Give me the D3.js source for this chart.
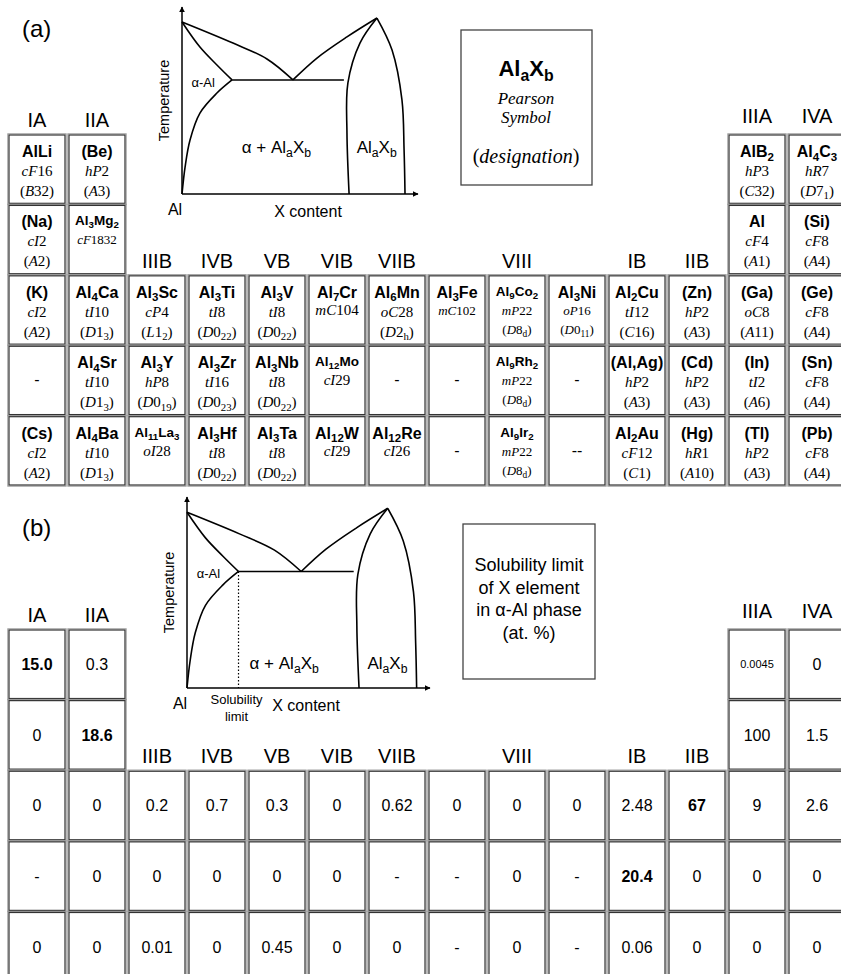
<!DOCTYPE html>
<html>
<head>
<meta charset="utf-8">
<script src="https://cdn.jsdelivr.net/npm/d3@7"></script>
<style>
  body { margin: 0; background: #fff; }
  svg { display: block; }
</style>
</head>
<body>
<script>
// Group names of the 14 table columns
var groups = ["IA", "IIA", "IIIB", "IVB", "VB", "VIB", "VIIB", "VIII", "VIII", "VIII", "IB", "IIB", "IIIA", "IVA"];

// (a) Al-richest phase: formula ("_" starts a subscript), Pearson symbol, designation
var formulaRows = [
    ["AlLi", "(Be)", null, null, null, null, null, null, null, null, null, null, "AlB_2", "Al_4C_3"],
    ["(Na)", "Al_3Mg_2", null, null, null, null, null, null, null, null, null, null, "Al", "(Si)"],
    ["(K)", "Al_4Ca", "Al_3Sc", "Al_3Ti", "Al_3V", "Al_7Cr", "Al_6Mn", "Al_3Fe", "Al_9Co_2", "Al_3Ni", "Al_2Cu", "(Zn)", "(Ga)", "(Ge)"],
    ["-", "Al_4Sr", "Al_3Y", "Al_3Zr", "Al_3Nb", "Al_12Mo", "-", "-", "Al_9Rh_2", "-", "(Al,Ag)", "(Cd)", "(In)", "(Sn)"],
    ["(Cs)", "Al_4Ba", "Al_11La_3", "Al_3Hf", "Al_3Ta", "Al_12W", "Al_12Re", "-", "Al_9Ir_2", "--", "Al_2Au", "(Hg)", "(Tl)", "(Pb)"]
];

var pearsonRows = [
    ["cF16", "hP2", null, null, null, null, null, null, null, null, null, null, "hP3", "hR7"],
    ["cI2", "cF1832", null, null, null, null, null, null, null, null, null, null, "cF4", "cF8"],
    ["cI2", "tI10", "cP4", "tI8", "tI8", "mC104", "oC28", "mC102", "mP22", "oP16", "tI12", "hP2", "oC8", "cF8"],
    [null, "tI10", "hP8", "tI16", "tI8", "cI29", null, null, "mP22", null, "hP2", "hP2", "tI2", "cF8"],
    ["cI2", "tI10", "oI28", "tI8", "tI8", "cI29", "cI26", null, "mP22", null, "cF12", "hR1", "hP2", "cF8"]
];

var designationRows = [
    ["B32", "A3", null, null, null, null, null, null, null, null, null, null, "C32", "D7_1"],
    ["A2", null, null, null, null, null, null, null, null, null, null, null, "A1", "A4"],
    ["A2", "D1_3", "L1_2", "D0_22", "D0_22", null, "D2_h", null, "D8_d", "D0_11", "C16", "A3", "A11", "A4"],
    [null, "D1_3", "D0_19", "D0_23", "D0_22", null, null, null, "D8_d", null, "A3", "A3", "A6", "A4"],
    ["A2", "D1_3", null, "D0_22", "D0_22", null, null, null, "D8_d", null, "C1", "A10", "A3", "A4"]
];

// (b) solubility limit of X in alpha-Al (at. %)
var solubilityRows = [
    ["15.0", "0.3", null, null, null, null, null, null, null, null, null, null, "0.0045", "0"],
    ["0", "18.6", null, null, null, null, null, null, null, null, null, null, "100", "1.5"],
    ["0", "0", "0.2", "0.7", "0.3", "0", "0.62", "0", "0", "0", "2.48", "67", "9", "2.6"],
    ["-", "0", "0", "0", "0", "0", "-", "-", "0", "-", "20.4", "0", "0", "0"],
    ["0", "0", "0.01", "0", "0.45", "0", "0", "-", "0", "-", "0.06", "0", "0", "0"]
];
var solubilityBold = ["15.0", "18.6", "67", "20.4"];

// Schematic Al-X phase diagram, points as [X content, temperature] in axis fractions
var liquidusLeft = [[0, 0.92], [0.216, 0.807], [0.36, 0.722], [0.47, 0.61]];
var solidus = [[0, 0.92], [0.076, 0.786], [0.148, 0.69], [0.212, 0.61]];
var solvus = [[0.212, 0.61], [0.148, 0.54], [0.076, 0.433], [0.034, 0.289], [0.013, 0.144], [0, 0]];
var liquidusRight = [[0.47, 0.61], [0.572, 0.727], [0.699, 0.84], [0.826, 0.941]];
var compoundLeft = [[0.826, 0.941], [0.754, 0.807], [0.703, 0.594], [0.699, 0.326], [0.708, 0]];
var compoundRight = [[0.826, 0.941], [0.89, 0.77], [0.932, 0.503], [0.941, 0.235], [0.945, 0]];
var eutectic = [[0.212, 0.61], [0.686, 0.61]];
var solubilityLimit = [[0.212, 0.61], [0.212, 0]];

var sans = "'Liberation Sans', Arial, sans-serif";
var serif = "'Liberation Serif', 'Times New Roman', serif";

window.onload = function() {

    var svg = d3.select("body").append("svg")
        .attr("width", 841)
        .attr("height", 974);

    var defs = svg.append("defs");
    defs.append("marker")
        .attr("id", "arrow")
        .attr("viewBox", "0 0 10 10")
        .attr("refX", 9)
        .attr("refY", 5)
        .attr("markerUnits", "userSpaceOnUse")
        .attr("markerWidth", 6)
        .attr("markerHeight", 6)
        .attr("orient", "auto")
        .append("path")
        .attr("d", "M0,0L10,5L0,10Z")
        .attr("fill", "#000");

    // Columns are shared by both tables
    var xCol = d3.scaleBand()
        .domain(d3.range(groups.length))
        .range([9, 845])
        .paddingInner(0.067);

    var yRowA = d3.scaleBand().domain(d3.range(5)).range([135, 485]).paddingInner(0.03);
    var yRowB = d3.scaleBand().domain(d3.range(5)).range([630, 981]).paddingInner(0.03);

    // Panel letters
    svg.append("text").attr("x", 22).attr("y", 37)
        .attr("font-family", sans).attr("font-size", 24).text("(a)");
    svg.append("text").attr("x", 22).attr("y", 536)
        .attr("font-family", sans).attr("font-size", 24).text("(b)");

    groupLabels(svg, xCol, yRowA, formulaRows);
    groupLabels(svg, xCol, yRowB, solubilityRows);

    phaseTable(svg, xCol, yRowA);
    solubilityTable(svg, xCol, yRowB);

    phaseDiagram(svg, {x0: 182, x1: 418, y0: 194, y1: 7, mixY: 0.25, contentX: 0.534, limit: false});
    phaseDiagram(svg, {x0: 187, x1: 430, y0: 688, y1: 497, mixY: 0.13, contentX: 0.49, limit: true});

    // Legend box (a)
    svg.append("rect").attr("x", 461).attr("y", 30).attr("width", 131).attr("height", 155)
        .attr("fill", "none").attr("stroke", "#444").attr("stroke-width", 1.3);
    richText(svg, "Al_aX_b", 526, 76, 22, {family: sans, weight: "bold"});
    richText(svg, "Pearson", 526, 104, 17, {family: serif, italicLetters: true});
    richText(svg, "Symbol", 526, 123, 17, {family: serif, italicLetters: true});
    richText(svg, "(designation)", 526, 163, 20, {family: serif, italicLetters: true});

    // Legend box (b)
    svg.append("rect").attr("x", 463).attr("y", 524).attr("width", 132).attr("height", 155)
        .attr("fill", "none").attr("stroke", "#444").attr("stroke-width", 1.3);
    ["Solubility limit", "of X element", "in \u03b1-Al phase", "(at. %)"].forEach(function(line, i) {
        svg.append("text")
            .attr("x", 529)
            .attr("y", 571 + i * 22.5)
            .attr("text-anchor", "middle")
            .attr("font-family", sans)
            .attr("font-size", 18)
            .text(line);
    });
};

function richText(parent, str, x, y, size, style) {
    /*
     * Writes a string where "_xx" is a subscript; letters may be italic
     */
    var text = parent.append("text")
        .attr("x", x)
        .attr("y", y)
        .attr("text-anchor", style.anchor || "middle")
        .attr("font-family", style.family)
        .attr("font-weight", style.weight || "normal")
        .attr("font-size", size);

    var tokens = str.match(/_[0-9a-z]+|[A-Za-z\u03b1]+|[^A-Za-z_\u03b1]+/g);
    var shift = size * 0.22;
    var shifted = false;

    tokens.forEach(function(tok) {
        var span = text.append("tspan");
        if (tok[0] === "_") {
            span.text(tok.slice(1)).attr("font-size", size * 0.72);
            if (!shifted) {
                span.attr("dy", shift);
                shifted = true;
            }
        } else {
            span.text(tok);
            if (shifted) {
                span.attr("dy", -shift);
                shifted = false;
            }
            if (style.italicLetters && /[A-Za-z]/.test(tok)) {
                span.attr("font-style", "italic");
            }
        }
    });
    return text;
}

function groupLabels(svg, xCol, yRow, rows) {
    // Label sits above the first cell of each column
    groups.forEach(function(name, c) {
        if (c >= 7 && c <= 9 && c !== 8) return;
        var first = d3.range(rows.length).find(function(r) { return rows[r][c] !== null; });
        svg.append("text")
            .attr("x", xCol(c) + xCol.bandwidth() / 2)
            .attr("y", yRow(first) - (c >= 12 ? 12 : 8))
            .attr("text-anchor", "middle")
            .attr("font-family", sans)
            .attr("font-size", 20)
            .text(name);
    });
}

function drawCellBox(cell, w, h) {
    // Light outer line and dark inner line, like a bordered table cell
    cell.append("rect")
        .attr("x", -1.2)
        .attr("y", -1.2)
        .attr("width", w + 2.4)
        .attr("height", h + 2.4)
        .attr("fill", "none")
        .attr("stroke", "#9a9a9a")
        .attr("stroke-width", 1);
    cell.append("rect")
        .attr("width", w)
        .attr("height", h)
        .attr("fill", "#fff")
        .attr("stroke", "#333")
        .attr("stroke-width", 1.2);
}

function phaseTable(svg, xCol, yRow) {
    var smallFormula = ["Al_3Mg_2", "Al_9Co_2", "Al_9Rh_2", "Al_9Ir_2", "Al_12Mo", "Al_11La_3"];
    var smallLines = ["Al_3Mg_2", "Al_3Fe", "Al_9Co_2", "Al_9Rh_2", "Al_9Ir_2", "Al_3Ni"];

    var cells = [];
    formulaRows.forEach(function(row, r) {
        row.forEach(function(f, c) {
            if (f === null) return;
            cells.push({r: r, c: c, formula: f, pearson: pearsonRows[r][c], designation: designationRows[r][c]});
        });
    });

    var w = xCol.bandwidth();
    var h = yRow.bandwidth();

    var cell = svg.selectAll(".cellA")
        .data(cells)
        .enter()
        .append("g")
        .attr("class", "cellA")
        .attr("transform", function(d) { return `translate(${xCol(d.c)}, ${yRow(d.r)})`; });

    drawCellBox(cell, w, h);

    cell.each(function(d) {
        var g = d3.select(this);
        if (d.formula === "-" || d.formula === "--") {
            richText(g, d.formula, w / 2, h / 2 + 5, 16, {family: sans});
            return;
        }
        var small = smallLines.indexOf(d.formula) >= 0;
        var smallF = smallFormula.indexOf(d.formula) >= 0;
        richText(g, d.formula, w / 2, smallF ? 20 : 22, smallF ? 13.5 : 16, {family: sans, weight: "bold"});
        if (d.pearson) {
            var py = (small || !d.designation) ? 39 : 41;
            richText(g, d.pearson, w / 2, py, small ? 13 : 15, {family: serif, italicLetters: true});
        }
        if (d.designation) {
            richText(g, "(" + d.designation + ")", w / 2, small ? 58 : 61, small ? 13 : 15,
                {family: serif, italicLetters: true});
        }
    });
}

function solubilityTable(svg, xCol, yRow) {
    var cells = [];
    solubilityRows.forEach(function(row, r) {
        row.forEach(function(v, c) {
            if (v === null) return;
            cells.push({r: r, c: c, value: v});
        });
    });

    var w = xCol.bandwidth();
    var h = yRow.bandwidth();

    var cell = svg.selectAll(".cellB")
        .data(cells)
        .enter()
        .append("g")
        .attr("class", "cellB")
        .attr("transform", function(d) { return `translate(${xCol(d.c)}, ${yRow(d.r)})`; });

    drawCellBox(cell, w, h);

    cell.append("text")
        .attr("x", w / 2)
        .attr("y", function(d) { return d.value.length > 5 ? h / 2 + 4 : h / 2 + 6; })
        .attr("text-anchor", "middle")
        .attr("font-family", sans)
        .attr("font-size", function(d) { return d.value.length > 5 ? 11 : 16; })
        .attr("font-weight", function(d) { return solubilityBold.indexOf(d.value) >= 0 ? "bold" : "normal"; })
        .text(function(d) { return d.value; });
}

function phaseDiagram(svg, cfg) {
    var x = d3.scaleLinear().domain([0, 1]).range([cfg.x0, cfg.x1]);
    var y = d3.scaleLinear().domain([0, 1]).range([cfg.y0, cfg.y1]);

    var g = svg.append("g").attr("class", "diagram");

    var line = d3.line()
        .x(function(d) { return x(d[0]); })
        .y(function(d) { return y(d[1]); })
        .curve(d3.curveCatmullRom.alpha(0.5));

    // Axes with arrows
    g.append("line")
        .attr("x1", x(0)).attr("y1", y(0)).attr("x2", x(0)).attr("y2", y(1))
        .attr("stroke", "#000").attr("stroke-width", 1.5).attr("marker-end", "url(#arrow)");
    g.append("line")
        .attr("x1", x(0)).attr("y1", y(0)).attr("x2", x(1)).attr("y2", y(0))
        .attr("stroke", "#000").attr("stroke-width", 1.5).attr("marker-end", "url(#arrow)");

    [liquidusLeft, solidus, solvus, liquidusRight, compoundLeft, compoundRight, eutectic].forEach(function(pts) {
        g.append("path")
            .attr("d", line(pts))
            .attr("fill", "none")
            .attr("stroke", "#000")
            .attr("stroke-width", 1.6);
    });

    if (cfg.limit) {
        g.append("path")
            .attr("d", line(solubilityLimit))
            .attr("fill", "none")
            .attr("stroke", "#000")
            .attr("stroke-width", 1.2)
            .attr("stroke-dasharray", "1.5,2");
        g.append("text").attr("x", x(0.212) - 2).attr("y", y(0) + 16)
            .attr("text-anchor", "middle").attr("font-family", sans).attr("font-size", 13)
            .text("Solubility");
        g.append("text").attr("x", x(0.212) - 2).attr("y", y(0) + 33)
            .attr("text-anchor", "middle").attr("font-family", sans).attr("font-size", 13)
            .text("limit");
    }

    g.append("text")
        .attr("transform", `translate(${x(0) - 13}, ${y(0.5)})rotate(-90)`)
        .attr("text-anchor", "middle")
        .attr("font-family", sans)
        .attr("font-size", 14.5)
        .text("Temperature");

    g.append("text").attr("x", x(0) - 7).attr("y", y(0) + 21)
        .attr("text-anchor", "middle").attr("font-family", sans).attr("font-size", 16)
        .text("Al");

    g.append("text").attr("x", x(cfg.contentX)).attr("y", y(0) + 23)
        .attr("text-anchor", "middle").attr("font-family", sans).attr("font-size", 16)
        .text("X content");

    richText(g, "\u03b1-Al", x(0.04), y(0.6) + 5, 13, {family: sans, anchor: "start"});
    richText(g, "\u03b1 + Al_aX_b", x(0.40), y(cfg.mixY) + 6, 17, {family: sans});
    richText(g, "Al_aX_b", x(0.825), y(cfg.mixY) + 6, 17, {family: sans});
}
</script>
</body>
</html>
